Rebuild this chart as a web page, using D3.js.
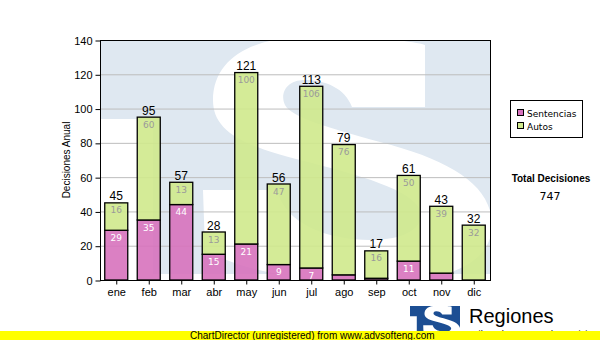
<!DOCTYPE html>
<html>
<head>
<meta charset="utf-8">
<script src="https://cdn.jsdelivr.net/npm/d3@7"></script>
<style>
  html, body { margin: 0; padding: 0; background: #fff; }
  svg { display: block; }
</style>
</head>
<body>
<svg id="chart" width="600" height="340"></svg>
<script>
// Monthly decisions, split by type
const months = ["ene", "feb", "mar", "abr", "may", "jun", "jul", "ago", "sep", "oct", "nov", "dic"];
const sentencias = [29, 35, 44, 15, 21, 9, 7, 3, 1, 11, 4, 0];
const autos = [16, 60, 13, 13, 100, 47, 106, 76, 16, 50, 39, 32];
const seriesNames = ["Sentencias", "Autos"];
const yTicks = [0, 20, 40, 60, 80, 100, 120, 140];
const yTitle = "Decisiones Anual";
const totalTitle = "Total Decisiones";
const footerText = "ChartDirector (unregistered) from www.advsofteng.com";
const brandName = "Regiones";
const brandSub = "Tribunal Supremo de Justicia";

const colors = { Sentencias: "#d772bd", Autos: "#cfe98c" };

const svg = d3.select("#chart");
const plot = { left: 100, top: 40, right: 490, bottom: 280 };

const x = d3.scaleBand()
  .domain(months)
  .range([plot.left, plot.right])
  .paddingInner(0.292)
  .paddingOuter(0.146);

const y = d3.scaleLinear().domain([0, 140]).range([plot.bottom, plot.top]);

// Brand mark: "TS" block with a white S, defined in a 390x240 box
const blockPath = "M0,0 H390 V234 H53 V79 H0 Z";
const sPath = "M200,-2 C260,-4 310,0 325,5 L325,67 L252,67 " +
  "C245,48 225,40 205,40 C185,40 180,55 185,65 " +
  "C192,78 230,88 280,102 C350,120 392,145 392,185 " +
  "C392,222 350,242 280,242 C200,242 140,230 105,210 " +
  "L103,150 L177,150 C185,185 230,200 270,200 " +
  "C310,200 325,185 320,170 C312,150 260,135 200,120 " +
  "C140,105 113,90 113,60 C113,20 150,-2 200,-2 Z";

function brandMark(g, fill) {
  g.append("path").attr("d", blockPath).attr("fill", fill);
  g.append("path").attr("d", sPath).attr("fill", "#fff");
}

// Plot background watermark
svg.append("clipPath").attr("id", "plotClip")
  .append("rect")
  .attr("x", plot.left).attr("y", plot.top)
  .attr("width", plot.right - plot.left).attr("height", plot.bottom - plot.top);

const wm = svg.append("g").attr("clip-path", "url(#plotClip)")
  .append("g").attr("transform", `translate(${plot.left},${plot.top})`);
brandMark(wm, "#dfe8f1");

// Horizontal grid lines
svg.append("g")
  .selectAll("line")
  .data(yTicks.filter(t => t > 0 && t < 140))
  .join("line")
  .attr("x1", plot.left).attr("x2", plot.right)
  .attr("y1", d => y(d) + 0.5).attr("y2", d => y(d) + 0.5)
  .attr("stroke", "#bdbdbd").attr("stroke-width", 1);

// Stacked bars
const rows = months.map((m, i) => ({ month: m, Sentencias: sentencias[i], Autos: autos[i] }));
const stacked = d3.stack().keys(seriesNames)(rows);

const barLayer = svg.append("g");
stacked.forEach(layer => {
  const key = layer.key;
  barLayer.append("g")
    .selectAll("rect")
    .data(layer.filter(d => d[1] - d[0] > 0))
    .join("rect")
    .attr("x", d => x(d.data.month))
    .attr("y", d => y(d[1]))
    .attr("width", x.bandwidth())
    .attr("height", d => y(d[0]) - y(d[1]))
    .attr("fill", colors[key])
    .attr("fill-opacity", 0.9)
    .attr("stroke", "#000")
    .attr("stroke-width", 1.3);
});

// Segment value labels
stacked.forEach(layer => {
  const key = layer.key;
  barLayer.append("g")
    .selectAll("text")
    .data(layer.filter(d => d[1] - d[0] >= 5))
    .join("text")
    .attr("x", d => x(d.data.month) + x.bandwidth() / 2)
    .attr("y", d => y(d[1]) + 10.5)
    .attr("text-anchor", "middle")
    .attr("font-family", "DejaVu Sans, Verdana, sans-serif")
    .attr("font-size", 9)
    .attr("fill", key === "Sentencias" ? "#ffffff" : "#9a9a9a")
    .text(d => d[1] - d[0]);
});

// Totals above bars
const totals = rows.map(r => r.Sentencias + r.Autos);
barLayer.append("g")
  .selectAll("text")
  .data(rows)
  .join("text")
  .attr("x", d => x(d.month) + x.bandwidth() / 2)
  .attr("y", (d, i) => y(totals[i]) - 2.5)
  .attr("text-anchor", "middle")
  .attr("font-family", "Liberation Sans, Arial, sans-serif")
  .attr("font-size", 12)
  .attr("fill", "#000")
  .text((d, i) => totals[i]);

// Plot frame
svg.append("rect")
  .attr("x", plot.left + 0.5).attr("y", plot.top + 0.5)
  .attr("width", plot.right - plot.left).attr("height", plot.bottom - plot.top)
  .attr("fill", "none").attr("stroke", "#000").attr("stroke-width", 1);

// Y axis
const yAxis = d3.axisLeft(y).tickValues(yTicks).tickSize(5).tickPadding(3);
const yg = svg.append("g").attr("transform", `translate(${plot.left + 0.5},0.5)`).call(yAxis);
yg.select(".domain").remove();
yg.selectAll("text")
  .attr("font-family", "Liberation Sans, Arial, sans-serif")
  .attr("font-size", 11)
  .attr("fill", "#000");

// X axis
const xAxis = d3.axisBottom(x).tickSize(4).tickPadding(4);
const xg = svg.append("g").attr("transform", `translate(0.5,${plot.bottom + 0.5})`).call(xAxis);
xg.select(".domain").remove();
xg.selectAll("text")
  .attr("font-family", "Liberation Sans, Arial, sans-serif")
  .attr("font-size", 11)
  .attr("fill", "#000");

// Y axis title
svg.append("text")
  .attr("transform", `translate(70,${(plot.top + plot.bottom) / 2}) rotate(-90)`)
  .attr("text-anchor", "middle")
  .attr("font-family", "Liberation Sans, Arial, sans-serif")
  .attr("font-size", 10)
  .attr("fill", "#000")
  .text(yTitle);

// Legend
const legend = svg.append("g").attr("transform", "translate(510,100)");
legend.append("rect")
  .attr("x", 0.5).attr("y", 0.5).attr("width", 72).attr("height", 37)
  .attr("fill", "#fff").attr("stroke", "#000");
seriesNames.forEach((name, i) => {
  const row = legend.append("g").attr("transform", `translate(7,${9 + i * 13})`);
  row.append("rect")
    .attr("x", 0.5).attr("y", 0.5).attr("width", 6).attr("height", 6)
    .attr("fill", colors[name]).attr("stroke", "#000");
  row.append("text")
    .attr("x", 10).attr("y", 7.5)
    .attr("font-family", "DejaVu Sans, Verdana, sans-serif")
    .attr("font-size", 9)
    .attr("fill", "#000")
    .text(name);
});

// Grand total
svg.append("text")
  .attr("x", 551).attr("y", 182)
  .attr("text-anchor", "middle")
  .attr("font-family", "Liberation Sans, Arial, sans-serif")
  .attr("font-weight", "bold")
  .attr("font-size", 10)
  .attr("fill", "#000")
  .text(totalTitle);
svg.append("text")
  .attr("x", 550).attr("y", 200)
  .attr("text-anchor", "middle")
  .attr("font-family", "DejaVu Sans, Verdana, sans-serif")
  .attr("font-size", 11)
  .attr("fill", "#000")
  .text(d3.sum(sentencias) + d3.sum(autos));

// Brand logo and name
const logo = svg.append("g").attr("transform", `translate(410,306) scale(${50 / 390})`);
brandMark(logo, "#1c4e93");
svg.append("text")
  .attr("x", 469).attr("y", 323)
  .attr("font-family", "Liberation Sans, Arial, sans-serif")
  .attr("font-size", 20)
  .attr("fill", "#000")
  .text(brandName);
svg.append("text")
  .attr("x", 470).attr("y", 337)
  .attr("font-family", "Liberation Sans, Arial, sans-serif")
  .attr("font-size", 9.5)
  .attr("fill", "#000")
  .text(brandSub);

// Footer band
svg.append("rect")
  .attr("x", 0).attr("y", 331).attr("width", 600).attr("height", 9)
  .attr("fill", "#ffff00");
svg.append("text")
  .attr("x", 190).attr("y", 338.5)
  .attr("font-family", "Liberation Sans, Arial, sans-serif")
  .attr("font-size", 10)
  .attr("fill", "#000")
  .text(footerText);
</script>
</body>
</html>
